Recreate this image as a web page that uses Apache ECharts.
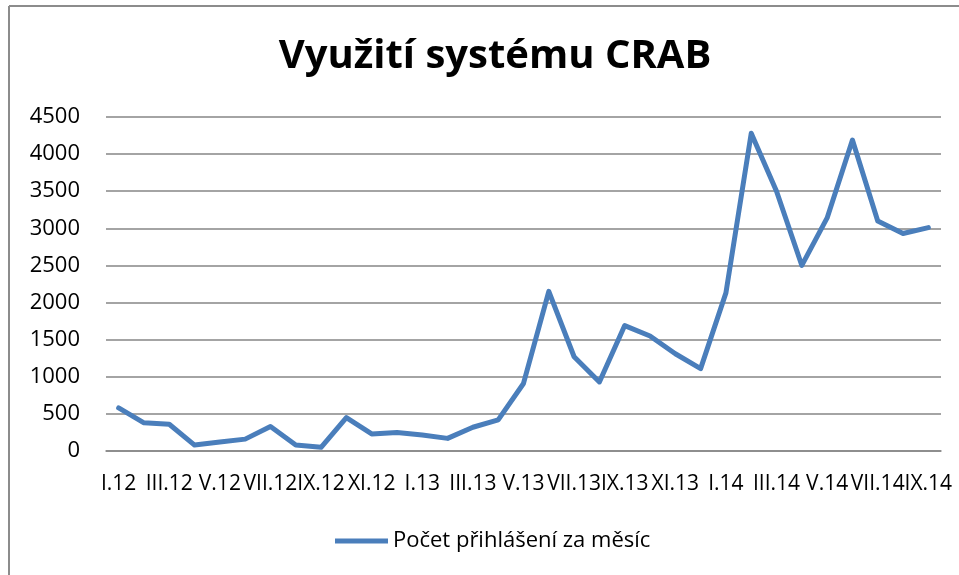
<!DOCTYPE html>
<html>
<head>
<meta charset="utf-8" />
<title>Využití systému CRAB</title>
<script src="https://cdn.jsdelivr.net/npm/echarts@6/dist/echarts.min.js"></script>
<style>
	html, body { margin: 0; padding: 0; background: #fff; }
	#main { width: 959px; height: 575px; }
</style>
</head>
<body>
<div id="main"></div>
<script>
	// měsíce I.12 .. IX.14
	var months = ['I.12', 'II.12', 'III.12', 'IV.12', 'V.12', 'VI.12', 'VII.12', 'VIII.12', 'IX.12', 'X.12', 'XI.12', 'XII.12',
		'I.13', 'II.13', 'III.13', 'IV.13', 'V.13', 'VI.13', 'VII.13', 'VIII.13', 'IX.13', 'X.13', 'XI.13', 'XII.13',
		'I.14', 'II.14', 'III.14', 'IV.14', 'V.14', 'VI.14', 'VII.14', 'VIII.14', 'IX.14'];
	var logins = [580, 380, 360, 80, 120, 160, 330, 80, 50, 450, 230, 250,
		215, 170, 320, 420, 910, 2150, 1270, 930, 1690, 1550, 1310, 1110,
		2130, 4280, 3500, 2500, 3140, 4190, 3100, 2930, 3010];
	var seriesName = 'Počet přihlášení za měsíc';
	var yTicks = { min: 0, max: 4500, step: 500 };

	var font = 'Open Sans';
	var myChart = echarts.init(document.getElementById('main'));

	var option = {
		backgroundColor: '#fff',
		animation: false,
		title: {
			text: 'Využití systému CRAB',
			left: 490,
			textAlign: 'center',
			top: 32,
			textStyle: { fontFamily: font, fontSize: 40, fontWeight: 'bold', color: '#000' }
		},
		graphic: [
			{ type: 'line', shape: { x1: 9, y1: 6, x2: 959, y2: 6 }, style: { stroke: '#8c8c8c', lineWidth: 2 } },
			{ type: 'line', shape: { x1: 9, y1: 6, x2: 9, y2: 575 }, style: { stroke: '#8c8c8c', lineWidth: 2 } }
		],
		legend: {
			bottom: 18,
			left: 330,
			icon: 'rect',
			itemWidth: 53,
			itemHeight: 5,
			itemGap: 2,
			textStyle: { fontFamily: font, fontSize: 22, color: '#000' },
			data: [seriesName]
		},
		grid: { left: 106, right: 18, top: 117, bottom: 124 },
		xAxis: {
			type: 'category',
			data: months,
			boundaryGap: true,
			axisLine: { lineStyle: { color: '#868686', width: 1.5 } },
			axisTick: { show: false },
			axisLabel: {
				interval: 1, margin: 23, showMaxLabel: true, hideOverlap: false,
				fontFamily: font, fontSize: 21, color: '#000'
			}
		},
		yAxis: {
			type: 'value',
			min: yTicks.min,
			max: yTicks.max,
			interval: yTicks.step,
			axisLine: { show: false },
			axisTick: { show: false },
			axisLabel: {
				margin: 26, fontFamily: font, fontSize: 22, color: '#000',
				formatter: function (v) { return String(v); }
			},
			splitLine: { lineStyle: { color: '#868686', width: 1.5 } }
		},
		series: [{
			name: seriesName,
			type: 'line',
			data: logins,
			showSymbol: false,
			symbol: 'none',
			itemStyle: { color: '#4a7ebb' },
			lineStyle: { color: '#4a7ebb', width: 5, join: 'round', cap: 'round' }
		}]
	};

	myChart.setOption(option);
</script>
</body>
</html>
